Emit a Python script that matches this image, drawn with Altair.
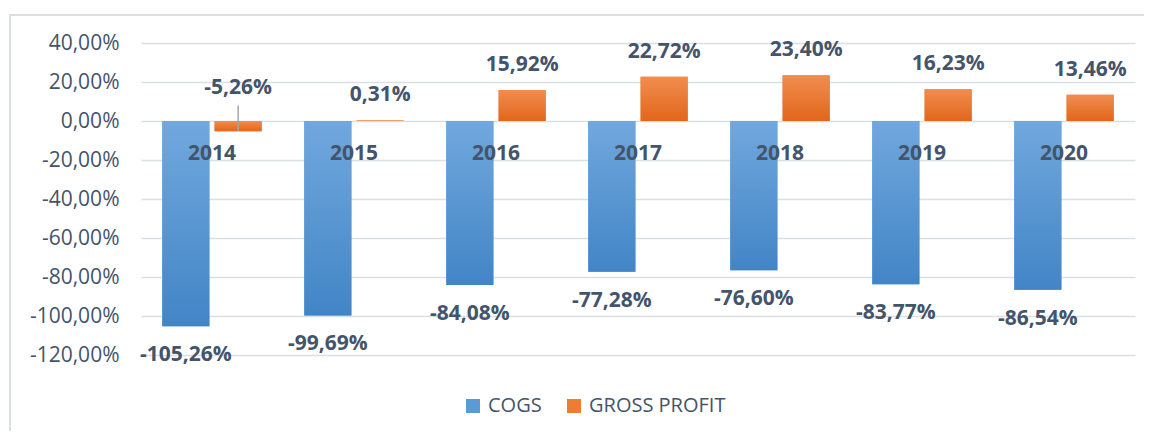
import altair as alt
import pandas as pd

years = ["2014", "2015", "2016", "2017", "2018", "2019", "2020"]
cogs = [-105.26, -99.69, -84.08, -77.28, -76.60, -83.77, -86.54]
gross_profit = [-5.26, 0.31, 15.92, 22.72, 23.40, 16.23, 13.46]
series_names = ["COGS", "GROSS PROFIT"]
y_ticks = [40, 20, 0, -20, -40, -60, -80, -100, -120]

TEXT = "#44546A"
GRID = "#DADFE6"
FONT = "Open Sans"
LEADER_TOP = 8
YEAR_LABEL_Y = -17


def fmt(v):
    return f"{v:.2f}".replace(".", ",") + "%"


rows = []
for y, c, g in zip(years, cogs, gross_profit):
    rows.append({"year": y, "series": "COGS", "value": c, "label": fmt(c)})
    rows.append({"year": y, "series": "GROSS PROFIT", "value": g, "label": fmt(g)})
df = pd.DataFrame(rows)
year_df = pd.DataFrame({"year": years, "ypos": [YEAR_LABEL_Y] * len(years)})

x_enc = alt.X("year:N", sort=years, scale=alt.Scale(paddingInner=0.3, paddingOuter=0.15), axis=None)
xo_enc = alt.XOffset("series:N", sort=series_names, scale=alt.Scale(paddingInner=0.1, paddingOuter=0))
y_scale = alt.Scale(domain=[-120, 40], nice=False, zero=False)
y_axis = alt.Axis(
    values=y_ticks,
    tickCount=9,
    labelExpr="replace(replace(format(datum.value, '.2f'), '.', ','), '\u2212', '-') + '%'",
    labelOverlap=False,
    domain=False,
    ticks=False,
    grid=True,
    gridColor=GRID,
    gridWidth=1.6,
    labelFont=FONT,
    labelFontSize=21,
    labelColor=TEXT,
    labelPadding=22,
    title=None,
)


def Y(field):
    return alt.Y(field, scale=y_scale, axis=y_axis, title=None)


base = alt.Chart(df)

bars = base.mark_bar().encode(
    x=x_enc,
    xOffset=xo_enc,
    y=Y("value:Q"),
    y2=alt.Y2(datum=0),
    color=alt.Color(
        "series:N",
        sort=series_names,
        scale=alt.Scale(domain=series_names, range=["#5B9BD5", "#ED7D31"]),
        legend=alt.Legend(
            title=None,
            orient="none",
            legendX=322,
            legendY=353,
            direction="horizontal",
            symbolType="square",
            symbolSize=196,
            symbolStrokeWidth=0,
            labelFont=FONT,
            labelFontSize=20,
            labelColor=TEXT,
            labelOffset=5,
            columnPadding=22,
        ),
    ),
)


def grad(top, bottom):
    return alt.Gradient(
        gradient="linear",
        stops=[alt.GradientStop(color=top, offset=0), alt.GradientStop(color=bottom, offset=1)],
        x1=0, x2=0, y1=0, y2=1,
    )


cogs_grad = base.transform_filter(alt.datum.series == "COGS").mark_bar(
    fill=grad("#71A8DE", "#4285C6")
).encode(x=x_enc, xOffset=xo_enc, y=Y("value:Q"), y2=alt.Y2(datum=0))

gp_grad = base.transform_filter(alt.datum.series == "GROSS PROFIT").mark_bar(
    fill=grad("#F18D50", "#E2661A")
).encode(x=x_enc, xOffset=xo_enc, y=Y("value:Q"), y2=alt.Y2(datum=0))

label_style = dict(font=FONT, fontSize=21, fontWeight="bold", color=TEXT, baseline="middle", align="center")

cogs_labels = base.transform_filter(alt.datum.series == "COGS").mark_text(dy=29, **label_style).encode(
    x=x_enc, xOffset=xo_enc, y=Y("value:Q"), text="label:N"
)
gp_pos_labels = base.transform_filter(
    (alt.datum.series == "GROSS PROFIT") & (alt.datum.value >= 0)
).mark_text(dy=-25, **label_style).encode(
    x=x_enc, xOffset=xo_enc, y=Y("value:Q"), text="label:N"
)
gp_neg_labels = base.transform_filter(
    (alt.datum.series == "GROSS PROFIT") & (alt.datum.value < 0)
).transform_calculate(anchor=str(LEADER_TOP)).mark_text(dy=-17, **label_style).encode(
    x=x_enc, xOffset=xo_enc, y=Y("anchor:Q"), text="label:N"
)
leader = base.transform_filter(
    (alt.datum.series == "GROSS PROFIT") & (alt.datum.value < 0)
).transform_calculate(top=str(LEADER_TOP)).mark_rule(color="#A6A6A6", strokeWidth=1.5).encode(
    x=x_enc, xOffset=xo_enc, y=Y("value:Q"), y2="top:Q"
)

year_labels = alt.Chart(year_df).mark_text(**label_style).encode(
    x=x_enc, y=Y("ypos:Q"), text="year:N"
)

frame = alt.Chart(year_df).mark_rect(fill=None, stroke=GRID, strokeWidth=2).encode(
    x=alt.value(-131), x2=alt.value(1004), y=alt.value(-28), y2=alt.value(420)
)

chart = alt.layer(
    frame, bars, cogs_grad, gp_grad, leader, cogs_labels, gp_pos_labels, gp_neg_labels, year_labels
).properties(
    width=994,
    height=312,
    padding={"left": 133, "top": 35, "right": 9, "bottom": 76},
    autosize=alt.AutoSizeParams(type="none"),
    background="white",
).configure_view(stroke=None)

chart.save("out.html", embed_options={"renderer": "svg", "actions": False})
